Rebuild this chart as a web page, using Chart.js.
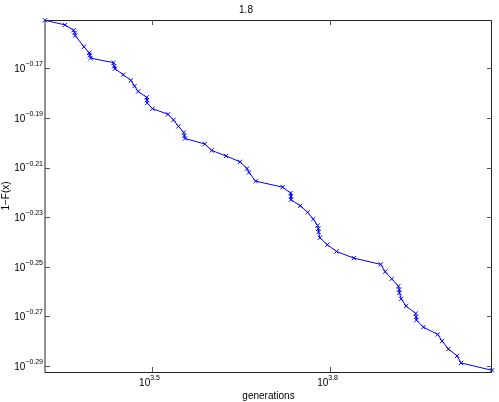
<!DOCTYPE html>
<html>
<head>
<meta charset="utf-8">
<style>
  html, body { margin: 0; padding: 0; background: #fff; }
</style>
</head>
<body>
<canvas id="myChart" width="499" height="402"></canvas>
<script src="https://cdn.jsdelivr.net/npm/chart.js@4/dist/chart.umd.min.js"></script>
<script>
'use strict';

// data

let generations = [2092, 2261, 2338, 2347, 2352, 2433, 2483, 2490, 2497, 2730,
  2736, 2744, 2833, 2919, 2961, 3003, 3103, 3106, 3110, 3175,
  3372, 3444, 3511, 3584, 3593, 3602, 3888, 3995, 4223, 4458,
  4581, 4616, 4737, 5260, 5425, 5432, 5432, 5633, 5795, 5924,
  6023, 6040, 6047, 6077, 6254, 6483, 6932, 7696, 7829, 8031,
  8242, 8265, 8274, 8329, 8492, 8813, 8827, 8837, 9080, 9599,
  9764, 10005, 10348, 10510, 11849];

let survival = [0.7070, 0.7040, 0.7005, 0.6988, 0.6971, 0.6898, 0.6860, 0.6843, 0.6826, 0.6797,
  0.6775, 0.6759, 0.6722, 0.6686, 0.6651, 0.6618, 0.6582, 0.6565, 0.6547, 0.6513,
  0.6479, 0.6445, 0.6407, 0.6370, 0.6350, 0.6335, 0.6303, 0.6265, 0.6233, 0.6199,
  0.6161, 0.6138, 0.6089, 0.6055, 0.6022, 0.6003, 0.5985, 0.5951, 0.5915, 0.5878,
  0.5843, 0.5826, 0.5808, 0.5777, 0.5740, 0.5704, 0.5669, 0.5636, 0.5598, 0.5561,
  0.5523, 0.5506, 0.5489, 0.5459, 0.5422, 0.5385, 0.5368, 0.5352, 0.5317, 0.5281,
  0.5249, 0.5210, 0.5177, 0.5143, 0.5108];

// tick labels are powers of ten
let xTickExponents = ['3.5', '3.8'];
let yTickExponents = ['-0.17', '-0.19', '-0.21', '-0.23', '-0.25', '-0.27', '-0.29'];

let xMin = 2092;
let xMax = 11849;
let yMin = 0.5105;
let yMax = 0.7072;

let fontFamily = "'Liberation Sans', Arial, sans-serif";

// draws "10" with a raised exponent
function drawPower(ctx, exp, x, y, align) {
  let base = '10';
  let expText = exp.replace('-', '\u2212');
  ctx.font = '10px ' + fontFamily;
  let wBase = ctx.measureText(base).width;
  ctx.font = '7px ' + fontFamily;
  let wExp = ctx.measureText(expText).width;
  let start;
  if (align === 'right') {
    start = x - wBase - wExp;
  } else {
    start = x - (wBase + wExp) / 2;
  }
  ctx.textAlign = 'left';
  ctx.textBaseline = 'middle';
  ctx.fillStyle = '#000';
  ctx.font = '10px ' + fontFamily;
  ctx.fillText(base, start, y);
  ctx.font = '7px ' + fontFamily;
  ctx.fillText(expText, start + wBase, y - 5);
}

// frame, inward ticks and tick labels in the matlab look
let matlabAxes = {
  id: 'matlabAxes',
  afterDraw(chart) {
    let ctx = chart.ctx;
    let area = chart.chartArea;
    let xs = chart.scales.x;
    let ys = chart.scales.y;
    ctx.save();

    ctx.strokeStyle = '#222';
    ctx.lineWidth = 1;
    ctx.beginPath();
    ctx.rect(Math.round(area.left), Math.round(area.top) + 0.5,
      Math.round(area.right - area.left) - 0.5, Math.round(area.bottom - area.top));
    ctx.stroke();

    let tickLen = 5;
    ctx.strokeStyle = '#555';
    ctx.beginPath();
    for (let i = 0; i < yTickExponents.length; i++) {
      let v = Math.pow(10, parseFloat(yTickExponents[i]));
      let py = Math.round(ys.getPixelForValue(v)) + 0.5;
      ctx.moveTo(area.left, py);
      ctx.lineTo(area.left + tickLen, py);
      ctx.moveTo(area.right, py);
      ctx.lineTo(area.right - tickLen, py);
    }
    for (let i = 0; i < xTickExponents.length; i++) {
      let v = Math.pow(10, parseFloat(xTickExponents[i]));
      let px = Math.round(xs.getPixelForValue(v)) + 0.5;
      ctx.moveTo(px, area.bottom);
      ctx.lineTo(px, area.bottom - tickLen);
      ctx.moveTo(px, area.top);
      ctx.lineTo(px, area.top + tickLen);
    }
    ctx.stroke();

    for (let i = 0; i < yTickExponents.length; i++) {
      let v = Math.pow(10, parseFloat(yTickExponents[i]));
      drawPower(ctx, yTickExponents[i], area.left - 2, ys.getPixelForValue(v) + 1, 'right');
    }
    for (let i = 0; i < xTickExponents.length; i++) {
      let v = Math.pow(10, parseFloat(xTickExponents[i]));
      drawPower(ctx, xTickExponents[i], xs.getPixelForValue(v) - 2, area.bottom + 11, 'center');
    }
    ctx.restore();
  }
};

let points = [];
for (let i = 0; i < generations.length; i++) {
  points.push({ x: generations[i], y: survival[i] });
}

const data = {
  datasets: [{
    data: points,
    borderColor: '#0000ff',
    backgroundColor: '#0000ff',
    borderWidth: 1,
    pointStyle: 'crossRot',
    pointRadius: 3,
    pointBorderWidth: 1,
    pointBorderColor: '#0000ff',
    tension: 0,
    clip: false
  }]
};

const config = {
  type: 'line',
  data: data,
  options: {
    responsive: false,
    animation: false,
    layout: { padding: { top: 0, right: 7, bottom: 0, left: 0 } },
    plugins: {
      legend: { display: false },
      tooltip: { enabled: false },
      title: {
        display: true,
        text: '1.8',
        color: '#000',
        font: { family: fontFamily, size: 10, weight: 'normal' },
        padding: { top: 4, bottom: 4 }
      }
    },
    scales: {
      x: {
        type: 'logarithmic',
        min: xMin,
        max: xMax,
        grid: { display: false },
        border: { display: false },
        ticks: { display: false },
        title: {
          display: true,
          text: 'generations',
          color: '#000',
          font: { family: fontFamily, size: 10 },
          padding: { top: 0, bottom: 0 }
        },
        afterFit: function (scale) { scale.height = 30; }
      },
      y: {
        type: 'logarithmic',
        min: yMin,
        max: yMax,
        grid: { display: false },
        border: { display: false },
        ticks: { display: false },
        title: {
          display: true,
          text: '1\u2212F(x)',
          color: '#000',
          font: { family: fontFamily, size: 10 },
          padding: { top: 0, bottom: 0 }
        },
        afterFit: function (scale) { scale.width = 45; }
      }
    }
  },
  plugins: [matlabAxes]
};

let canvasChart = document.getElementById('myChart');
const myChart = new Chart(canvasChart, config);
</script>
</body>
</html>
